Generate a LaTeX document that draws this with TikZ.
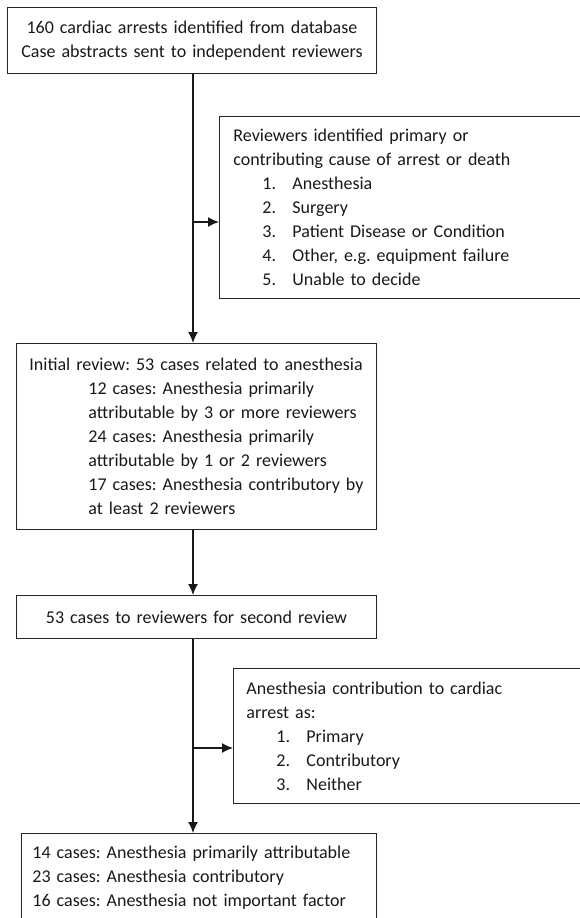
\documentclass[tikz,border=0pt]{standalone}
\usepackage{fontspec}
\setmainfont{Carlito}
\usetikzlibrary{arrows.meta,positioning}
\frenchspacing
\tikzstyle{block} = [draw=black!85, line width=0.9pt, rectangle, anchor=north west,
    inner ysep=0pt, text=black!90, font=\fontsize{18}{24}\selectfont\frenchspacing]
\tikzstyle{flow} = [line width=1.4pt, draw=black!90]
\newcommand{\listrow}[3]{\hspace*{#1}\makebox[30pt][l]{#2}#3}

\begin{document}
\begin{tikzpicture}[x=1pt, y=1pt, >={Latex[length=11pt,width=10pt]}]
  \useasboundingbox (0,0) rectangle (580,-918);
  \clip (0,0) rectangle (580,-918);

  \node [block, text width=349pt, inner xsep=10pt, minimum height=66pt, align=center] (found) at (7,-7)
    {160 cardiac arrests identified from database\\Case abstracts sent to independent reviewers};
  \node [block, text width=338pt, inner xsep=14pt, minimum height=182pt, align=left] (causes) at (219,-116)
    {Reviewers identified primary or\\contributing cause of arrest or death\\
     \listrow{29pt}{1.}{Anesthesia}\\\listrow{29pt}{2.}{Surgery}\\
     \listrow{29pt}{3.}{Patient Disease or Condition}\\
     \listrow{29pt}{4.}{Other, e.g. equipment failure}\\\listrow{29pt}{5.}{Unable to decide}};
  \node [block, text width=334pt, inner xsep=13pt, minimum height=186pt, align=left] (init) at (16,-343)
    {\mbox{Initial review: 53 cases related to anesthesia}\\
     \hspace*{59pt}12 cases: Anesthesia primarily\\
     \hspace*{59pt}attributable by 3 or more reviewers\\
     \hspace*{59pt}24 cases: Anesthesia primarily\\
     \hspace*{59pt}attributable by 1 or 2 reviewers\\
     \hspace*{59pt}\mbox{17 cases: Anesthesia contributory by}\\
     \hspace*{59pt}at least 2 reviewers};
  \node [block, text width=340pt, inner xsep=10pt, minimum height=43pt, align=center] (second) at (16,-595)
    {53 cases to reviewers for second review};
  \node [block, text width=326pt, inner xsep=13pt, minimum height=135pt, align=left] (grade) at (233,-668)
    {Anesthesia contribution to cardiac\\arrest as:\\
     \listrow{30pt}{1.}{Primary}\\\listrow{30pt}{2.}{Contributory}\\\listrow{30pt}{3.}{Neither}};
  \node [block, text width=333pt, inner xsep=11pt, minimum height=88pt, align=left] (final) at (21,-833)
    {14 cases: Anesthesia primarily attributable\\23 cases: Anesthesia contributory\\
     16 cases: Anesthesia not important factor};

  \coordinate (split1) at (193,-222);
  \coordinate (split2) at (193,-748);

  \draw [flow,->] (found.south -| split1) -- (init.north -| split1);
  \draw [flow,->] (split1) -- (split1 -| causes.west);
  \draw [flow,->] (init.south -| split1) -- (second.north -| split1);
  \draw [flow,->] (second.south -| split2) -- (final.north -| split2);
  \draw [flow,->] (split2) -- (split2 -| grade.west);
\end{tikzpicture}
\end{document}
